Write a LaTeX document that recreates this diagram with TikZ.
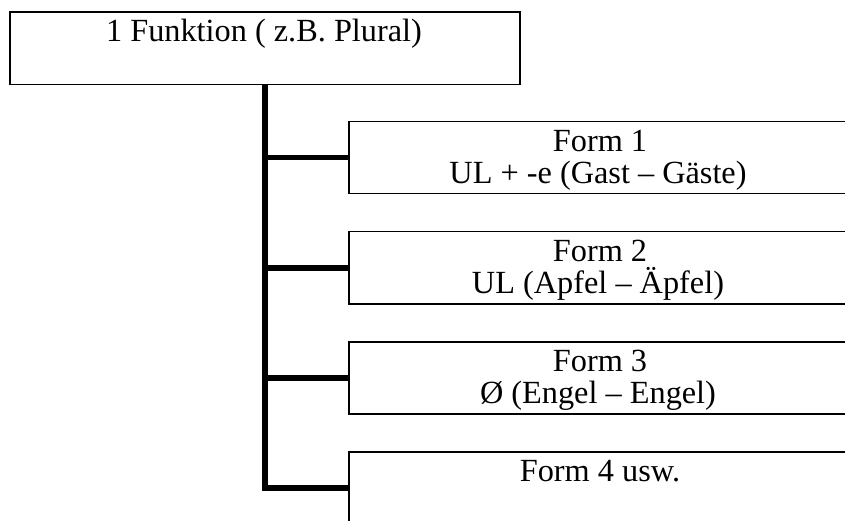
\documentclass[tikz,border=0pt]{standalone}
\usepackage{fontspec}
\setmainfont{Liberation Serif}
\begin{document}
\begin{tikzpicture}[x=1pt,y=-1pt,
  box/.style={draw, line width=1.5pt, rectangle, inner sep=0pt, anchor=north west},
  formbox/.style={box, minimum width=504pt, minimum height=72pt},
  trunk/.style={line width=5.5pt, line join=miter},
  txt/.style={font=\fontsize{32.3}{37}\selectfont, anchor=base, inner sep=0pt}]
\clip (0,0) rectangle (845,521);
\fill[white] (0,0) rectangle (845,521);

% function box
\node[box, minimum width=510pt, minimum height=72.5pt] (func) at (9,11.5) {};
\node[txt] (functext) at (264,41.7) {1 Funktion ( z.B. Plural)};

% form boxes (running off the right edge)
\node[formbox] (f1) at (348,121) {};
\node[formbox] (f2) at (348,231) {};
\node[formbox] (f3) at (348,341) {};
\node[formbox] (f4) at (348,451) {};

\node[txt] (f1a) at (600,151.7) {Form 1};
\node[txt] (f1b) at (598,183.5) {UL + -e (Gast – Gäste)};
\node[txt] (f2a) at (600,261.7) {Form 2};
\node[txt] (f2b) at (598,293.5) {UL (Apfel – Äpfel)};
\node[txt] (f3a) at (600,371.7) {Form 3};
\node[txt] (f3b) at (598,403.5) {Ø (Engel – Engel)};
\node[txt] (f4a) at (600,481.7) {Form 4 usw.};

% connectors
\draw[trunk] (func.south) |- (f4.west);
\foreach \f in {f1,f2,f3}
  \draw[trunk] (\f.west -| func.south) -- (\f.west);
\end{tikzpicture}
\end{document}
